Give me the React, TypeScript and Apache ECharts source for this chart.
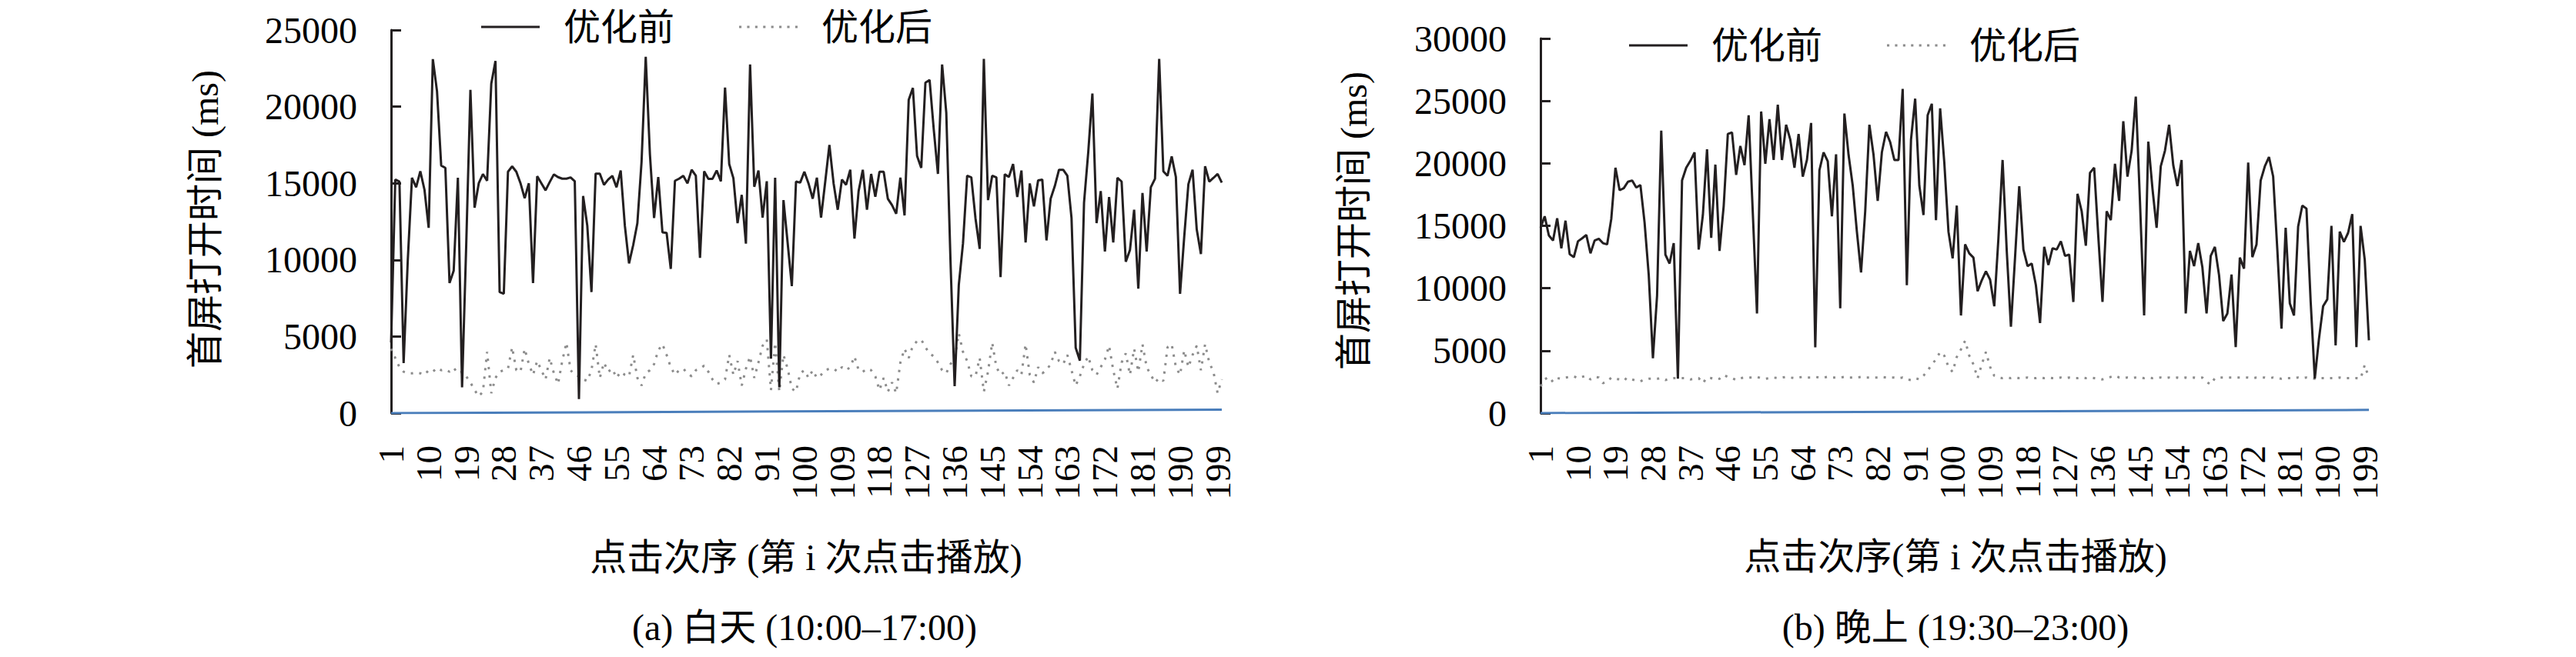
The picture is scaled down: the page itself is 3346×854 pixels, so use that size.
import React, { useEffect, useRef } from "react";
import * as echarts from "echarts";

// 1..200 click index
const categories: string[] = Array.from({ length: 200 }, (_, i) => String(i + 1));

// (a) daytime, before optimisation
const dayBefore: number[] = [
  4600, 15240, 15100, 3270, 10000, 15360, 14740, 15780, 14570, 12090,
  23100, 21000, 16160, 16000, 8490, 9300, 15360, 1680, 11000, 21100,
  13400, 15000, 15600, 15160, 21500, 22980, 7900, 7790, 15750, 16100,
  15750, 15000, 14020, 15000, 8490, 15460, 15000, 14540, 15080, 15580,
  15400, 15300, 15300, 15380, 15130, 920, 14170, 12230, 7900, 15630,
  15630, 14900, 15240, 15480, 14740, 15830, 12230, 9770, 10970, 12400,
  16400, 23250, 16900, 12730, 15410, 11800, 11760, 9410, 15160, 15300,
  15490, 14990, 15880, 15490, 10130, 15780, 15290, 15290, 15830, 15130,
  21240, 16250, 15330, 12400, 14240, 11060, 22750, 14770, 15830, 12760,
  15130, 3550, 15360, 1680, 13900, 11100, 8290, 15110, 15040, 15750,
  14990, 13990, 15360, 12760, 15100, 17500, 15000, 13270, 15240, 14900,
  15880, 11390, 14490, 15880, 13270, 15610, 14120, 15750, 15750, 13990,
  13570, 13010, 15360, 12900, 20440, 21220, 16780, 16000, 21560, 21740,
  18500, 15610, 22750, 19600, 10000, 1760, 8380, 11060, 15490, 15380,
  12700, 10720, 23120, 13900, 15490, 15380, 8880, 15580, 15410, 16250,
  14100, 15830, 11140, 14990, 13490, 15190, 15240, 11270, 13990, 14820,
  15880, 15880, 15490, 12730, 4270, 3430, 13740, 17000, 20850, 12400,
  14490, 10550, 14100, 11140, 15360, 15110, 9880, 10640, 13270, 8120,
  14370, 10550, 14740, 15290, 23120, 15780, 15490, 16750, 15410, 7790,
  11500, 14940, 15880, 11980, 10380, 16110, 15110, 15350, 15610, 15040,
];

// (a) daytime, after optimisation
const dayAfter: number[] = [
  4200, 3600, 3000, 2700, 2600, 2600, 2650, 2600, 2500, 2800,
  2700, 2950, 2800, 2850, 2700, 2950, 2600, 2700, 2400, 2000,
  1500, 1100, 1400, 4000, 1300, 2300, 2700, 2800, 2900, 4300,
  2800, 2700, 4200, 3200, 2500, 3400, 2800, 2200, 3600, 2600,
  1900, 3400, 4600, 2800, 2500, 2400, 2200, 2100, 2800, 4500,
  2300, 3300, 2700, 2900, 2300, 2700, 2500, 2400, 3800, 2300,
  1800, 2600, 2800, 3200, 4100, 4500, 3800, 3000, 2500, 2800,
  2900, 2600, 2400, 2800, 2900, 3100, 2700, 2200, 1900, 2000,
  2200, 3800, 2500, 3400, 1800, 2900, 3700, 2300, 3300, 4400,
  4800, 1500, 4600, 1400, 3800, 2900, 1600, 1400, 2600, 2800,
  2300, 2800, 2300, 2500, 2800, 2900, 2900, 2700, 3000, 2800,
  3000, 3700, 2800, 2700, 2900, 2800, 2400, 1500, 2300, 1400,
  2000, 1300, 3300, 4200, 3600, 4400, 4700, 4800, 4300, 3900,
  3700, 3300, 2800, 2600, 3200, 3500, 5200, 4000, 3400, 2400,
  2400, 3600, 1400, 2700, 4600, 3000, 2500, 2700, 1800, 2300,
  2800, 2500, 4500, 2500, 2000, 3000, 2600, 2800, 3200, 4000,
  3400, 3200, 3800, 2800, 1800, 2400, 3200, 3700, 2800, 2500,
  3000, 3500, 4400, 2800, 1600, 3300, 3900, 2500, 4200, 2700,
  4500, 3000, 2500, 2000, 2300, 2100, 4300, 4500, 3000, 2500,
  4100, 3000, 3800, 4400, 2800, 4500, 3300, 2700, 1300, 2200,
];

// (b) evening, before optimisation
const nightBefore: number[] = [
  14840, 15760, 14230, 13820, 15600, 13200, 15410, 12730, 12490, 13760,
  14000, 14270, 12800, 13820, 13960, 13610, 13510, 15560, 19650, 17850,
  18010, 18530, 18630, 18060, 18260, 15250, 11050, 4400, 9420, 22620,
  12690, 11980, 13610, 2760, 18630, 19650, 20200, 20880, 13100, 15860,
  21130, 14030, 19900, 12990, 16570, 22350, 22480, 19080, 21390, 19860,
  23850, 16000, 7980, 24150, 19960, 23540, 20270, 24700, 20270, 23090,
  21900, 19650, 22350, 18940, 20270, 23230, 5270, 19450, 20880, 20160,
  15760, 20720, 8390, 23990, 20680, 18220, 14530, 11260, 16170, 23090,
  20680, 16990, 20880, 22520, 21700, 20270, 20270, 25960, 10240, 21900,
  25180, 18220, 15860, 23850, 24770, 15450, 24400, 20060, 14530, 12390,
  16620, 7820, 13510, 12790, 12450, 9760, 10640, 11360, 10690, 8560,
  14000, 20270, 13000, 6920, 12500, 18160, 13100, 11770, 11980, 10240,
  7210, 13310, 11870, 13200, 13100, 13760, 12590, 12690, 8900, 17560,
  16170, 13410, 19240, 19650, 14120, 8900, 16170, 15450, 19960, 16990,
  23370, 18940, 21000, 25340, 17000, 7820, 21740, 18000, 14840, 19760,
  21000, 23090, 19860, 18180, 20270, 7980, 12990, 11770, 13610, 11670,
  7980, 12590, 13310, 11050, 7370, 7980, 11100, 5280, 12450, 11570,
  20060, 12490, 13510, 18630, 19760, 20510, 18940, 13100, 6760, 14840,
  8800, 7820, 14940, 16620, 16380, 9000, 2760, 5940, 8560, 9110,
  14990, 5420, 14530, 13710, 14430, 15930, 5280, 14990, 12280, 5830,
];

// (b) evening, after optimisation
const nightAfter: number[] = [
  2150, 2700, 2900, 2500, 2800, 2750, 2850, 2900, 2950, 2800,
  2900, 3000, 2700, 2900, 2850, 2400, 2500, 2850, 2750, 2700,
  2850, 2600, 2700, 2600, 2550, 2700, 2750, 2750, 2750, 2800,
  2650, 2750, 2800, 2800, 2800, 2800, 2700, 2750, 2800, 2400,
  2850, 2800, 2700, 2750, 3050, 2900, 2800, 2650, 2800, 2850,
  2850, 2850, 2900, 2800, 2750, 2800, 2850, 2800, 2850, 2900,
  2850, 2800, 2850, 2900, 2850, 2850, 2900, 2850, 2850, 2900,
  2850, 2850, 2850, 2900, 2850, 2850, 2850, 2900, 2850, 2850,
  2850, 2850, 2900, 2850, 2850, 2850, 2800, 2850, 2700, 2650,
  2800, 2700, 3000, 3400, 3900, 4300, 4900, 4600, 3700, 3300,
  4500, 5100, 5800, 4600, 3900, 2800, 3900, 4900, 3700, 3000,
  2850, 2800, 2850, 2800, 2850, 2800, 2800, 2850, 2800, 2800,
  2850, 2800, 2850, 2800, 2800, 2850, 2800, 2850, 2800, 2800,
  2850, 2800, 2850, 2800, 2750, 2700, 2800, 2900, 3000, 2850,
  2800, 2850, 2800, 2850, 2850, 2800, 2850, 2800, 2850, 2850,
  2800, 2850, 2800, 2850, 2800, 2850, 2800, 2850, 2800, 2850,
  2500, 2300, 2800, 2850, 2850, 2850, 2850, 2850, 2850, 2850,
  2850, 2800, 2850, 2850, 2850, 2800, 2850, 2800, 2750, 2800,
  2800, 2800, 2850, 2800, 2850, 2800, 2750, 2800, 2800, 2800,
  2800, 2800, 2850, 2800, 2800, 2800, 2800, 2750, 3850, 2800,
];

// thin blue reference line along the bottom of each panel: [category, value]
const dayBaseline: [string, number][] = [["1", 0], ["200", 230]];
const nightBaseline: [string, number][] = [["1", 0], ["200", 260]];

const legendNames = ["优化前", "优化后"];
const yTitle = "首屏打开时间 (ms)";
const xTitleDay = "点击次序 (第 i 次点击播放)";
const xTitleNight = "点击次序(第 i 次点击播放)";
const captionDay = "(a) 白天 (10:00–17:00)";
const captionNight = "(b) 晚上 (19:30–23:00)";

const FONT = "'Liberation Serif', 'Noto Sans CJK SC', serif";
const BLACK = "#231f20";
const GREY = "#8c8c8c";

const SOLID_ICON = "path://M0 0H80V3H0Z";
const DOTTED_ICON =
  "path://M0 0h3v3h-3z M10 0h3v3h-3z M20 0h3v3h-3z M30 0h3v3h-3z M40 0h3v3h-3z M50 0h3v3h-3z M60 0h3v3h-3z M70 0h3v3h-3z";

function xAxisCfg(gridIndex: number) {
  return {
    type: "category" as const,
    gridIndex,
    data: categories,
    boundaryGap: false,
    axisLine: { show: false },
    axisTick: { show: false },
    splitLine: { show: false },
    axisLabel: {
      interval: 8,
      rotate: 90,
      fontSize: 47,
      fontFamily: FONT,
      color: "#000",
      margin: 42,
    },
  };
}

function yAxisCfg(gridIndex: number, max: number) {
  return {
    type: "value" as const,
    gridIndex,
    min: 0,
    max,
    interval: 5000,
    axisLine: { show: true, lineStyle: { color: BLACK, width: 3 } },
    axisTick: { show: true, inside: true, length: 13, lineStyle: { color: BLACK, width: 3 } },
    splitLine: { show: false },
    axisLabel: {
      fontSize: 48,
      fontFamily: FONT,
      color: "#000",
      margin: 44,
      formatter: (v: number) => String(v),
    },
  };
}

function seriesFor(idx: number, before: number[], after: number[], base: [string, number][]) {
  return [
    {
      name: "基线",
      type: "line" as const,
      xAxisIndex: idx,
      yAxisIndex: idx,
      data: base,
      symbol: "none",
      silent: true,
      lineStyle: { color: "#4a7ebb", width: 3 },
      z: 1,
    },
    {
      name: "优化后",
      type: "line" as const,
      xAxisIndex: idx,
      yAxisIndex: idx,
      data: after,
      symbol: "none",
      lineStyle: { color: GREY, width: 3, type: [3, 8] as number[] },
      itemStyle: { color: GREY },
      z: 2,
    },
    {
      name: "优化前",
      type: "line" as const,
      xAxisIndex: idx,
      yAxisIndex: idx,
      data: before,
      symbol: "none",
      lineStyle: { color: BLACK, width: 3 },
      itemStyle: { color: BLACK },
      z: 3,
    },
  ];
}

function legendCfg(left: number, top: number) {
  return {
    left,
    top,
    orient: "horizontal" as const,
    data: [
      { name: legendNames[0], icon: SOLID_ICON, itemStyle: { color: BLACK } },
      { name: legendNames[1], icon: DOTTED_ICON, itemStyle: { color: GREY } },
    ],
    itemWidth: 76,
    itemHeight: 3,
    symbolKeepAspect: false,
    itemGap: 84,
    selectedMode: false,
    textStyle: { fontSize: 48, fontFamily: FONT, color: "#000", padding: [0, 0, 0, 26] },
  };
}

function textEl(text: string, x: number, y: number, rotation = 0) {
  return {
    type: "text" as const,
    x,
    y,
    rotation,
    silent: true,
    style: {
      text,
      fontSize: 48,
      fontFamily: FONT,
      fill: "#000",
      align: "center",
      verticalAlign: "middle",
    },
  };
}

export default function App() {
  const ref = useRef<HTMLDivElement>(null);

  useEffect(() => {
    document.body.style.margin = "0";
    if (!ref.current) return;
    const chart = echarts.init(ref.current, undefined, { renderer: "svg" });
    chart.setOption({
      animation: false,
      backgroundColor: "#fff",
      grid: [
        { left: 508, top: 39, width: 1079, height: 498 },
        { left: 2001, top: 50, width: 1076, height: 487 },
      ],
      xAxis: [xAxisCfg(0), xAxisCfg(1)],
      yAxis: [yAxisCfg(0, 25000), yAxisCfg(1, 30000)],
      legend: [legendCfg(620, 6), legendCfg(2111, 30)],
      series: [
        ...seriesFor(0, dayBefore, dayAfter, dayBaseline),
        ...seriesFor(1, nightBefore, nightAfter, nightBaseline),
      ],
      graphic: [
        textEl(yTitle, 266, 285, Math.PI / 2),
        textEl(yTitle, 1758, 287, Math.PI / 2),
        textEl(xTitleDay, 1047, 724),
        textEl(xTitleNight, 2540, 723),
        textEl(captionDay, 1045, 815),
        textEl(captionNight, 2540, 815),
      ],
    });
    return () => chart.dispose();
  }, []);

  return <div ref={ref} style={{ width: 3346, height: 854 }} />;
}
